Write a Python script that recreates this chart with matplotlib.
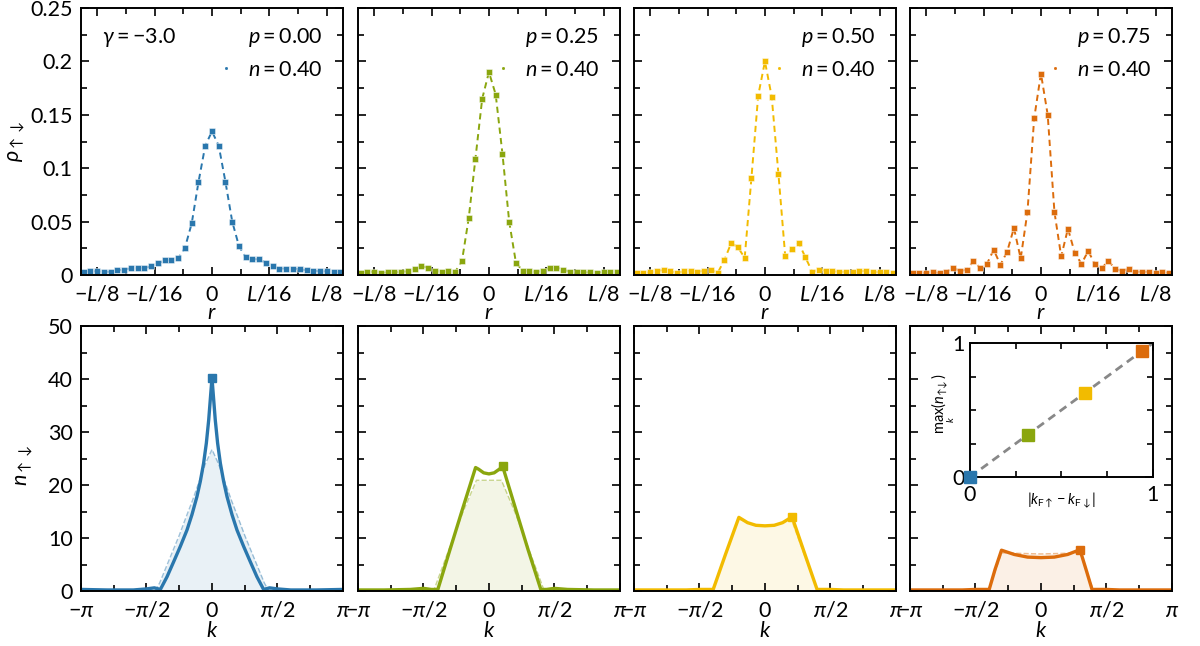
import matplotlib
matplotlib.use('Agg')
import matplotlib.pyplot as plt
import numpy as np
from matplotlib.lines import Line2D
from matplotlib.ticker import FixedLocator

plt.rcParams['font.family'] = ['Lato', 'DejaVu Sans']
plt.rcParams['mathtext.fontset'] = 'custom'
plt.rcParams['mathtext.rm'] = 'Lato'
plt.rcParams['mathtext.it'] = 'Lato:italic'
plt.rcParams['mathtext.bf'] = 'Lato:bold'
plt.rcParams['font.size'] = 15.5

# ---- data ----
L = 136
r_sites = np.arange(-19, 20)

rho_p000 = [0.003, 0.0035, 0.0035, 0.003, 0.003, 0.0045, 0.005, 0.0063, 0.0066, 0.0066,
            0.008, 0.011, 0.0136, 0.014, 0.0155, 0.0256, 0.0484, 0.087, 0.121,
            0.1345,
            0.121, 0.087, 0.050, 0.027, 0.0165, 0.015, 0.0146, 0.0114, 0.008, 0.006,
            0.006, 0.006, 0.0054, 0.0044, 0.004, 0.0035, 0.0035, 0.003, 0.003]
rho_p025 = [0.002, 0.003, 0.003, 0.002, 0.0025, 0.0025, 0.003, 0.0035, 0.0057, 0.008,
            0.007, 0.004, 0.003, 0.0035, 0.003, 0.013, 0.053, 0.109, 0.165,
            0.190,
            0.169, 0.1136, 0.050, 0.0114, 0.004, 0.0035, 0.003, 0.004, 0.007, 0.007,
            0.005, 0.003, 0.003, 0.0025, 0.0025, 0.002, 0.003, 0.003, 0.003]
rho_p050 = [0.002, 0.002, 0.0025, 0.004, 0.0045, 0.0035, 0.002, 0.0035, 0.004, 0.003,
            0.004, 0.005, 0.002, 0.014, 0.030, 0.026, 0.016, 0.091, 0.168,
            0.200,
            0.167, 0.0946, 0.018, 0.024, 0.030, 0.0165, 0.003, 0.005, 0.004, 0.0035,
            0.003, 0.003, 0.0025, 0.0035, 0.004, 0.003, 0.0025, 0.0025, 0.002]
rho_p075 = [0.002, 0.002, 0.002, 0.003, 0.0016, 0.003, 0.007, 0.0035, 0.005, 0.013,
            0.0066, 0.0104, 0.0237, 0.0095, 0.022, 0.044, 0.0155, 0.059, 0.1468,
            0.1886,
            0.150, 0.059, 0.0174, 0.0434, 0.021, 0.0104, 0.0225, 0.010, 0.0063, 0.0133,
            0.0054, 0.0038, 0.0057, 0.003, 0.003, 0.003, 0.002, 0.0025, 0.002]

# momentum distributions, k in units of pi
k_p000 = [-1.0, -0.8, -0.6, -0.5, -0.44, -0.394, -0.343, -0.293, -0.242, -0.191, -0.153,
          -0.115, -0.089, -0.064, -0.043, -0.025, -0.013, 0.0, 0.013, 0.025, 0.043, 0.064,
          0.089, 0.115, 0.153, 0.191, 0.242, 0.293, 0.343, 0.394, 0.44, 0.5, 0.6, 0.8, 1.0]
n_p000 = [0.3, 0.2, 0.2, 0.4, 0.6, 0.3, 2.7, 5.5, 8.4, 11.5, 14.4,
          17.8, 20.7, 24.1, 27.9, 32.3, 36.1, 40.2, 36.1, 32.3, 27.9, 24.1,
          20.7, 17.8, 14.4, 11.5, 8.4, 5.5, 2.7, 0.3, 0.6, 0.4, 0.2, 0.2, 0.3]
kd_p000 = [-1.0, -0.6, -0.43, -0.40, -0.35, -0.30, -0.25, -0.20, -0.15, -0.10, -0.05, 0.0,
           0.05, 0.10, 0.15, 0.20, 0.25, 0.30, 0.35, 0.40, 0.43, 0.6, 1.0]
nd_p000 = [0.2, 0.2, 0.2, 1.5, 4.5, 7.5, 10.5, 13.8, 17.0, 20.5, 24.0, 26.7,
           24.0, 20.5, 17.0, 13.8, 10.5, 7.5, 4.5, 1.5, 0.2, 0.2, 0.2]

k_p025 = [-1.0, -0.8, -0.6, -0.5, -0.44, -0.39, -0.3, -0.2, -0.102, -0.08, -0.04, 0.0,
          0.04, 0.08, 0.105, 0.2, 0.3, 0.396, 0.44, 0.5, 0.6, 0.8, 1.0]
n_p025 = [0.2, 0.2, 0.3, 0.5, 0.3, 0.3, 7.6, 15.6, 23.3, 23.0, 22.3, 22.1,
          22.3, 23.0, 23.5, 15.8, 7.7, 0.3, 0.3, 0.5, 0.3, 0.2, 0.2]
kd_p025 = [-1.0, -0.6, -0.42, -0.3, -0.2, -0.095, 0.0, 0.095, 0.2, 0.3, 0.42, 0.6, 1.0]
nd_p025 = [0.2, 0.2, 0.2, 8.2, 14.8, 20.9, 20.9, 20.9, 14.8, 8.2, 0.2, 0.2, 0.2]

k_p050 = [-1.0, -0.6, -0.5, -0.395, -0.3, -0.199, -0.133, -0.069, 0.0, 0.071, 0.135,
          0.207, 0.3, 0.398, 0.5, 0.6, 1.0]
n_p050 = [0.2, 0.2, 0.3, 0.3, 7.0, 13.9, 12.9, 12.4, 12.3, 12.4, 12.9,
          14.0, 7.3, 0.3, 0.3, 0.2, 0.2]
kd_p050 = [-1.0, -0.4, -0.2, -0.1, 0.0, 0.1, 0.2, 0.4, 1.0]
nd_p050 = [0.2, 0.2, 13.6, 12.6, 12.3, 12.6, 13.6, 0.2, 0.2]

k_p075 = [-1.0, -0.6, -0.5, -0.395, -0.35, -0.301, -0.204, -0.102, 0.0, 0.102, 0.204,
          0.298, 0.35, 0.39, 0.5, 0.6, 1.0]
n_p075 = [0.2, 0.2, 0.3, 0.3, 4.1, 7.7, 6.9, 6.4, 6.3, 6.4, 6.9,
          7.8, 3.6, 0.3, 0.3, 0.2, 0.2]
kd_p075 = [-1.0, -0.4, -0.3, 0.0, 0.3, 0.4, 1.0]
nd_p075 = [0.2, 0.2, 7.2, 7.0, 7.2, 0.2, 0.2]

# inset: peak height vs Fermi momentum mismatch
dkF = [0.0, 0.316, 0.627, 0.94]
max_n = [0.0, 0.311, 0.627, 0.94]
fit_x = [0.0, 1.0]
fit_y = [0.0, 1.0]

p_labels = ['0.00', '0.25', '0.50', '0.75']
colors = ['#2a77ad', '#8aa60e', '#f2bb00', '#dc6c0c']
rho_all = [rho_p000, rho_p025, rho_p050, rho_p075]
k_all = [k_p000, k_p025, k_p050, k_p075]
n_all = [n_p000, n_p025, n_p050, n_p075]
kd_all = [kd_p000, kd_p025, kd_p050, kd_p075]
nd_all = [nd_p000, nd_p025, nd_p050, nd_p075]

rho_ticks = [0, 0.05, 0.1, 0.15, 0.2, 0.25]
rho_ticklabels = ['0', '0.05', '0.1', '0.15', '0.2', '0.25']
n_ticks = [0, 10, 20, 30, 40, 50]


def style_axes(ax):
    ax.tick_params(which='both', direction='in', top=True, right=True, width=1.2)
    ax.tick_params(which='major', length=6)
    ax.tick_params(which='minor', length=4)
    ax.tick_params(axis='x', pad=7)
    ax.tick_params(axis='y', pad=6)
    for s in ax.spines.values():
        s.set_linewidth(1.4)


fig = plt.figure(figsize=(12, 6.46), dpi=100)
lefts = [0.0675, 0.2983, 0.5283, 0.7583]
w = 0.2183

for i in range(4):
    c = colors[i]
    # --- real space pair correlation ---
    ax = fig.add_axes([lefts[i], 0.5743, w, 0.4133])
    ax.plot(r_sites, rho_all[i], ls='--', dashes=(3.2, 2.2), lw=1.4, color=c,
            marker='s', ms=5, mec=(1, 1, 1, 0.45), mew=0.7, mfc=c)
    ax.set_xlim(-19.4, 19.4)
    ax.set_ylim(0, 0.25)
    ax.xaxis.set_major_locator(FixedLocator([-L/8, -L/16, 0, L/16, L/8]))
    ax.xaxis.set_minor_locator(FixedLocator([-3*L/32, -L/32, L/32, 3*L/32]))
    ax.set_xticklabels(['$-L/8$', '$-L/16$', '$0$', '$L/16$', '$L/8$'])
    ax.yaxis.set_major_locator(FixedLocator(rho_ticks))
    ax.yaxis.set_minor_locator(FixedLocator([0.025, 0.075, 0.125, 0.175, 0.225]))
    if i == 0:
        ax.set_yticklabels(rho_ticklabels)
        ax.set_ylabel(r'$\rho_{\uparrow\downarrow}$')
        ax.yaxis.set_label_coords(-0.205, 0.5)
        ax.text(0.08, 0.888, r'$\gamma = -3.0$', transform=ax.transAxes, ha='left', va='center')
    else:
        ax.set_yticklabels([])
    ax.set_xlabel('$r$', labelpad=-1)
    ax.text(0.92, 0.888, '$p = %s$' % p_labels[i], transform=ax.transAxes, ha='right', va='center')
    h = Line2D([], [], ls='none', marker='s', ms=1.0, color=c)
    ax.legend(handles=[h], labels=['$n = 0.40$'], loc='center right', bbox_to_anchor=(0.92, 0.768),
              frameon=False, borderpad=0, borderaxespad=0, handlelength=0.8, handletextpad=0.6)
    style_axes(ax)

    # --- momentum distribution ---
    ax2 = fig.add_axes([lefts[i], 0.0851, w, 0.4102])
    k = np.array(k_all[i]) * np.pi
    kd = np.array(kd_all[i]) * np.pi
    n = np.array(n_all[i])
    ax2.fill_between(kd, nd_all[i], color=c, alpha=0.1, lw=0)
    ax2.plot(kd, nd_all[i], ls='--', lw=1, color=c, alpha=0.45)
    ax2.plot(k, n, lw=2.4, color=c)
    imax = np.argmax(n)
    ax2.plot(k[imax], n[imax], 's', ms=6, color=c)
    ax2.set_xlim(-np.pi, np.pi)
    ax2.set_ylim(0, 50)
    ax2.xaxis.set_major_locator(FixedLocator([-np.pi, -np.pi/2, 0, np.pi/2, np.pi]))
    ax2.xaxis.set_minor_locator(FixedLocator([-3*np.pi/4, -np.pi/4, np.pi/4, 3*np.pi/4]))
    ax2.set_xticklabels([r'$-\pi$', r'$-\pi/2$', '$0$', r'$\pi/2$', r'$\pi$'])
    ax2.yaxis.set_major_locator(FixedLocator(n_ticks))
    ax2.yaxis.set_minor_locator(FixedLocator([5, 15, 25, 35, 45]))
    if i == 0:
        ax2.set_yticklabels([str(t) for t in n_ticks])
        ax2.set_ylabel(r'$n_{\uparrow\downarrow}$')
        ax2.yaxis.set_label_coords(-0.176, 0.475)
    else:
        ax2.set_yticklabels([])
    ax2.set_xlabel('$k$', labelpad=0)
    style_axes(ax2)

# inset
axi = fig.add_axes([0.8083, 0.2616, 0.1525, 0.2074])
axi.plot(fit_x, fit_y, ls='--', dashes=(3, 2), lw=2, color='#888888')
for j in range(4):
    axi.plot(dkF[j], max_n[j], 's', ms=8, color=colors[j], clip_on=False, zorder=5)
axi.set_xlim(0, 1)
axi.set_ylim(0, 1)
axi.xaxis.set_major_locator(FixedLocator([0, 1]))
axi.yaxis.set_major_locator(FixedLocator([0, 1]))
axi.xaxis.set_minor_locator(FixedLocator([0.25, 0.5, 0.75]))
axi.yaxis.set_minor_locator(FixedLocator([0.25, 0.5, 0.75]))
axi.set_xticklabels(['0', '1'])
axi.set_yticklabels(['0', '1'])
style_axes(axi)
axi.tick_params(axis='x', pad=6)
axi.tick_params(axis='y', pad=4)
axi.set_xlabel(r'$|k_{\mathrm{F}\uparrow} - k_{\mathrm{F}\downarrow}|$', fontsize=10.5)
axi.xaxis.set_label_coords(0.5, -0.1)
axi.set_ylabel(r'$\max_{k}(n_{\uparrow\downarrow})$', fontsize=10.5)
axi.yaxis.set_label_coords(-0.07, 0.55)

plt.savefig('out.png', dpi=100)
